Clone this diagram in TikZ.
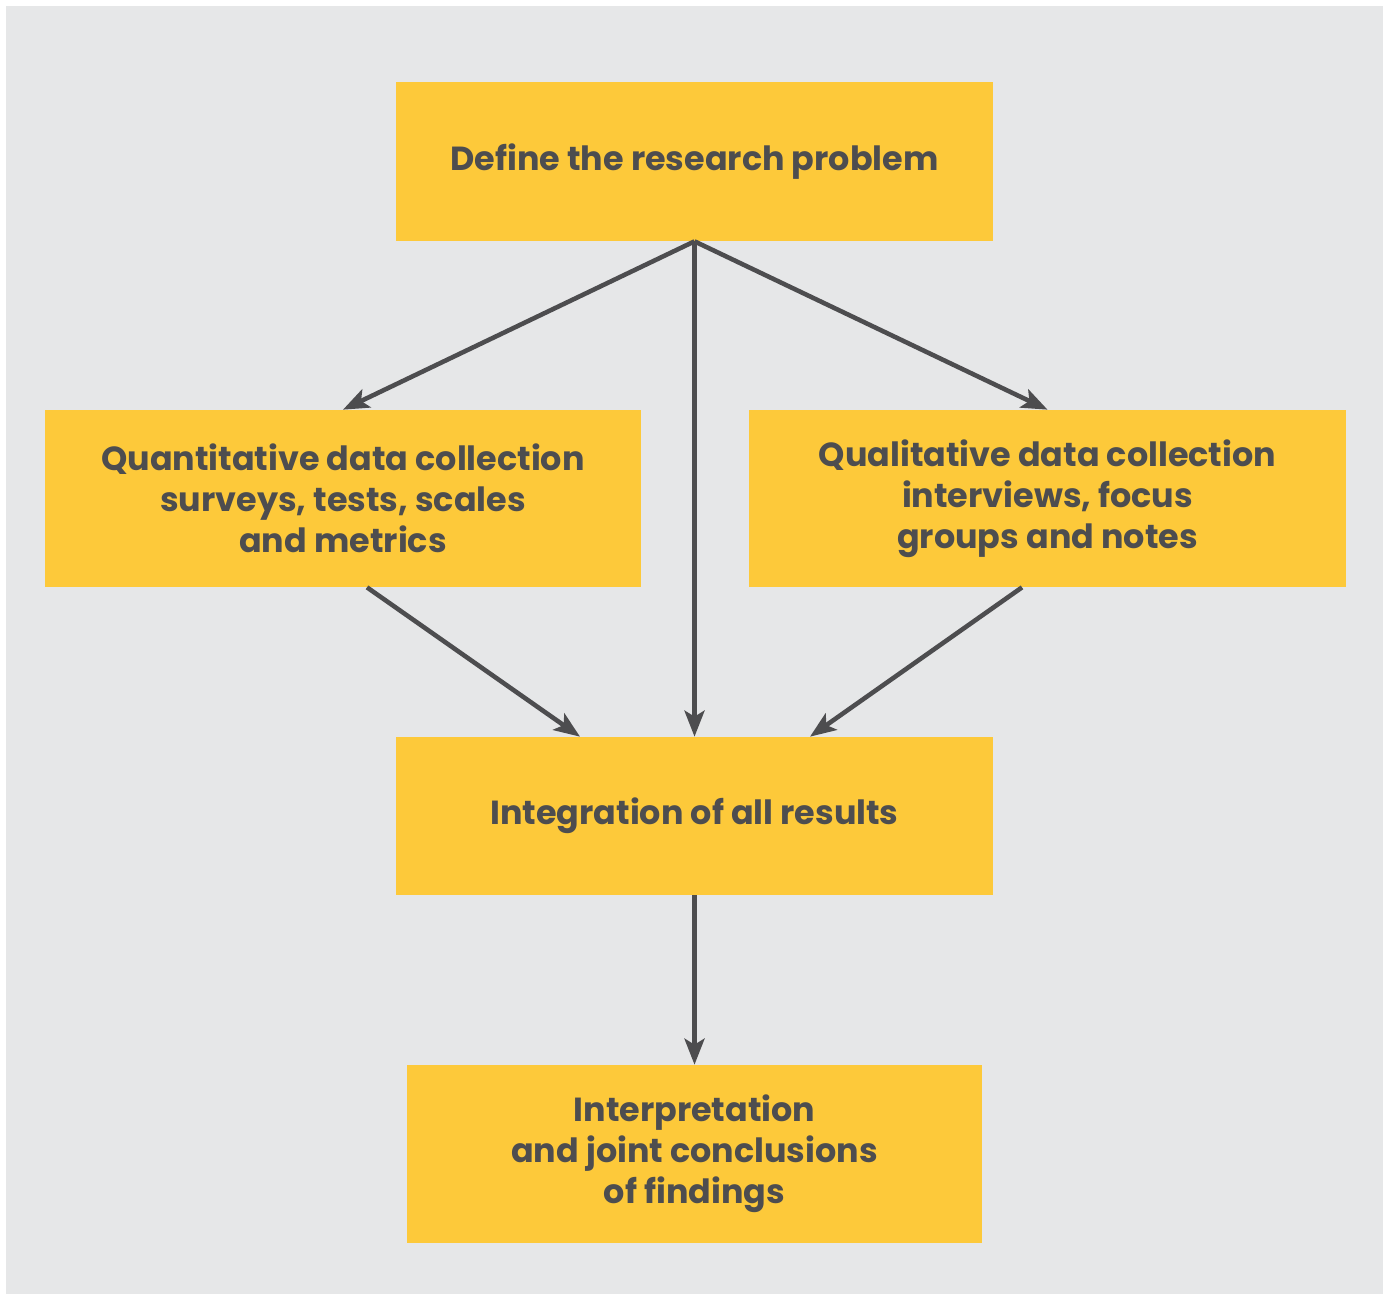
\documentclass[tikz,border=0pt]{standalone}
\usepackage{fontspec}
\setmainfont{Poppins}
\usepackage{tikz}
\usetikzlibrary{arrows.meta,positioning}
\definecolor{bggrey}{RGB}{230,231,232}
\definecolor{boxyellow}{RGB}{253,201,58}
\definecolor{darkgrey}{RGB}{77,77,79}
\tikzstyle{box} = [rectangle, fill=boxyellow, text=darkgrey, inner sep=0pt, align=center, font=\fontsize{19}{23.3}\selectfont\bfseries]
\tikzstyle{arrow} = [line width=2.6pt, -{Stealth[length=0.52cm, width=0.4cm, inset=0.12cm]}, color=darkgrey]

\begin{document}
\begin{tikzpicture}
\useasboundingbox (0,0) rectangle (27.84,-25.92);
% Background
\fill[bggrey] (0.12,-0.12) rectangle (27.66,-25.88);

% Top question
\node[box, minimum width=11.94cm, minimum height=3.18cm] (question) at (13.89,-3.23) {Define the research problem};

% Two strands
\node[box, minimum width=11.92cm, minimum height=3.54cm] (quant) at (6.86,-9.97) {Quantitative data collection\\surveys, tests, scales\\and metrics};
\node[box, minimum width=11.94cm, minimum height=3.54cm] (qual) at (20.95,-9.97) {Qualitative data collection\\interviews, focus\\groups and notes};

% Merging and result
\node[box, minimum width=11.94cm, minimum height=3.16cm] (merge) at (13.89,-16.32) {Integration of all results};
\node[box, minimum width=11.50cm, minimum height=3.56cm] (result) at (13.89,-23.08) {Interpretation\\and joint conclusions\\of findings};

% Arrows
\draw[arrow] (question.south) -- (quant.north);
\draw[arrow] (question.south) -- (qual.north);
\draw[arrow] (question.south) -- (merge.north);
\draw[arrow] ([xshift=0.48cm]quant.south) -- ([xshift=-2.29cm]merge.north);
\draw[arrow] ([xshift=-0.51cm]qual.south) -- ([xshift=2.31cm]merge.north);
\draw[arrow] (merge.south) -- (result.north);
\end{tikzpicture}
\end{document}
